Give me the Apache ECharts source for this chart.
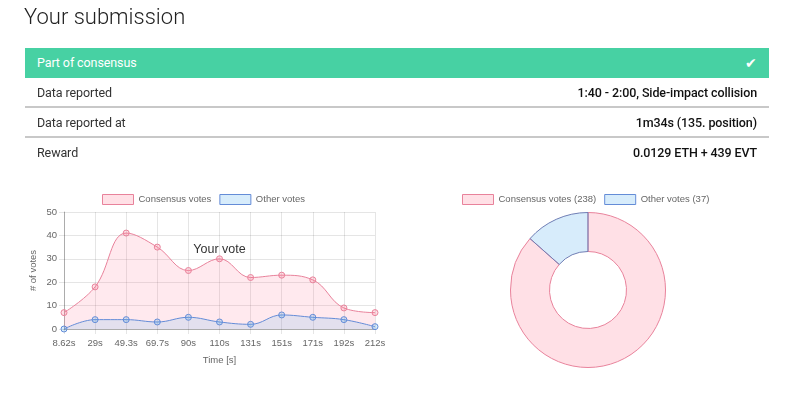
<!DOCTYPE html>
<html>
<head>
<meta charset="utf-8">
<script src="https://cdn.jsdelivr.net/npm/echarts@6/dist/echarts.min.js"></script>
<style>
  html, body { margin: 0; padding: 0; background: #fff; }
  body { width: 800px; height: 395px; position: relative; overflow: hidden; font-family: Roboto, "Liberation Sans", Arial, sans-serif; }
  #title { position: absolute; left: 24px; top: 4px; font-size: 22px; font-weight: 300; color: #222; z-index: 2; }
  .row { position: absolute; left: 25px; width: 744px; height: 30px; line-height: 30px; font-size: 12.5px; color: #333; z-index: 2; box-sizing: border-box; }
  .row .l { position: absolute; left: 12px; letter-spacing: -0.1px; }
  .row .r { position: absolute; right: 12px; font-weight: 500; color: #111; letter-spacing: -0.1px; }
  #r0 { top: 48px; background: #47d1a3; color: #fff; }
  #r0 .r { color: #fff; font-size: 14px; }
  .sep { border-bottom: 2px solid #c8c8c8; }
  #chart { position: absolute; left: 0; top: 0; width: 800px; height: 395px; z-index: 1; }
</style>
</head>
<body>
<div id="chart"></div>
<div id="title">Your submission</div>
<div class="row" id="r0"><span class="l">Part of consensus</span><span class="r">&#10004;</span></div>
<div class="row sep" id="r1" style="top:78px;"><span class="l">Data reported</span><span class="r">1:40 - 2:00, Side-impact collision</span></div>
<div class="row sep" id="r2" style="top:108px;"><span class="l">Data reported at</span><span class="r">1m34s (135. position)</span></div>
<div class="row" id="r3" style="top:138px;"><span class="l">Reward</span><span class="r">0.0129 ETH + 439 EVT</span></div>
<script>
const categories = ['8.62s', '29s', '49.3s', '69.7s', '90s', '110s', '131s', '151s', '171s', '192s', '212s'];
const consensusVotes = [7, 18, 41, 35, 25, 30, 22, 23, 21, 9, 7];
const otherVotes = [0, 4, 4, 3, 5, 3, 2, 6, 5, 4, 1];
const yourVoteCategory = '110s';
const yourVoteValue = 30;
const consensusTotal = consensusVotes.reduce((a, b) => a + b, 0);
const otherTotal = otherVotes.reduce((a, b) => a + b, 0);

const pinkFill = 'rgba(255,99,132,0.2)';
const pinkLine = 'rgba(232,130,155,1)';
const blueFill = 'rgba(54,162,235,0.2)';
const blueLine = 'rgba(100,140,215,1)';
const txt = '#666';
const ff = '"Liberation Sans", Arial, sans-serif';
const fs = 9.5;

const chart = echarts.init(document.getElementById('chart'), null, { renderer: 'canvas' });
chart.setOption({
  animation: false,
  textStyle: { fontFamily: ff },
  legend: [
    {
      left: 97, top: 189, itemWidth: 31, itemHeight: 10, itemGap: 8, icon: 'rect',
      textStyle: { color: txt, fontSize: fs, fontFamily: ff },
      selectedMode: false,
      data: [
        { name: 'Consensus votes', itemStyle: { color: pinkFill, borderColor: pinkLine, borderWidth: 1 } },
        { name: 'Other votes', itemStyle: { color: blueFill, borderColor: blueLine, borderWidth: 1 } }
      ]
    },
    {
      left: 457, top: 189, itemWidth: 31, itemHeight: 10, itemGap: 8, icon: 'rect',
      textStyle: { color: txt, fontSize: fs, fontFamily: ff },
      selectedMode: false,
      data: [
        { name: 'Consensus votes (' + consensusTotal + ')', itemStyle: { color: pinkFill, borderColor: pinkLine, borderWidth: 1 } },
        { name: 'Other votes (' + otherTotal + ')', itemStyle: { color: blueFill, borderColor: blueLine, borderWidth: 1 } }
      ]
    }
  ],
  grid: { left: 64, top: 212, width: 311, height: 117, containLabel: false },
  xAxis: {
    type: 'category', data: categories, boundaryGap: false,
    name: 'Time [s]', nameLocation: 'middle', nameGap: 26,
    nameTextStyle: { color: txt, fontSize: fs },
    axisLine: { lineStyle: { color: 'rgba(0,0,0,0.25)' } },
    axisTick: { show: true, length: 5, lineStyle: { color: 'rgba(0,0,0,0.1)' } },
    axisLabel: { color: txt, fontSize: fs, margin: 9, interval: 0 },
    splitLine: { show: true, lineStyle: { color: 'rgba(0,0,0,0.1)' } }
  },
  yAxis: {
    type: 'value', min: 0, max: 50, interval: 10,
    name: '# of votes', nameLocation: 'middle', nameGap: 26, nameRotate: 90,
    nameTextStyle: { color: txt, fontSize: fs },
    axisLine: { show: true, lineStyle: { color: 'rgba(0,0,0,0.25)' } },
    axisTick: { show: true, length: 5, lineStyle: { color: 'rgba(0,0,0,0.1)' } },
    axisLabel: { color: txt, fontSize: fs, margin: 7 },
    splitLine: { show: true, lineStyle: { color: 'rgba(0,0,0,0.1)' } }
  },
  series: [
    {
      name: 'Consensus votes', type: 'line', data: consensusVotes, smooth: 0.4,
      symbol: 'circle', symbolSize: 6,
      lineStyle: { color: pinkLine, width: 1 },
      itemStyle: { color: pinkFill, borderColor: pinkLine, borderWidth: 1 },
      areaStyle: { color: pinkFill, origin: 'start' },
      markPoint: {
        symbol: 'circle', symbolSize: 0,
        label: { show: true, formatter: 'Your vote', position: 'top', distance: 3, color: '#333', fontSize: 12.5, fontFamily: ff },
        data: [{ coord: [yourVoteCategory, yourVoteValue] }]
      },
      z: 2
    },
    {
      name: 'Other votes', type: 'line', data: otherVotes, smooth: 0.4,
      symbol: 'circle', symbolSize: 6,
      lineStyle: { color: blueLine, width: 1 },
      itemStyle: { color: blueFill, borderColor: blueLine, borderWidth: 1 },
      areaStyle: { color: blueFill, origin: 'start' },
      z: 3
    },
    {
      type: 'pie', center: [588, 290], radius: [38.5, 77.5], startAngle: 90, clockwise: true,
      label: { show: false }, labelLine: { show: false }, silent: true,
      emphasis: { disabled: true },
      data: [
        { name: 'Consensus votes (' + consensusTotal + ')', value: consensusTotal, itemStyle: { color: pinkFill, borderColor: pinkLine, borderWidth: 1 } },
        { name: 'Other votes (' + otherTotal + ')', value: otherTotal, itemStyle: { color: blueFill, borderColor: 'rgba(110,125,180,1)', borderWidth: 1 } }
      ]
    }
  ]
});
</script>
</body>
</html>
